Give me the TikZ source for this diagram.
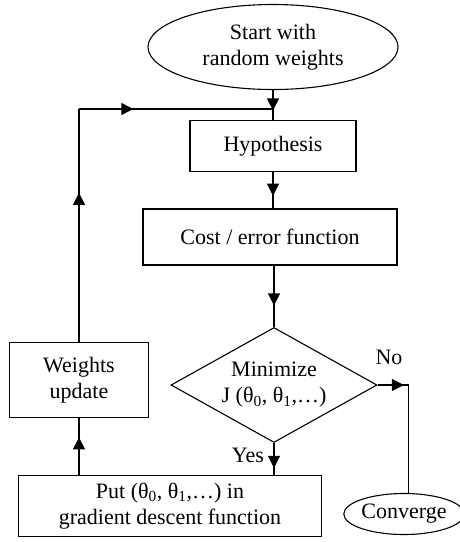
\documentclass[tikz,border=0pt]{standalone}
\usepackage{fontspec}
\setmainfont{Liberation Serif}
\usetikzlibrary{shapes.geometric,arrows.meta,decorations.markings}
\tikzset{
    flowbox/.style={draw, rectangle, align=center, inner sep=0pt},
    flowoval/.style={draw, ellipse, align=center, inner sep=0pt},
    flowdiamond/.style={draw, diamond, aspect=1.8, align=center, inner sep=0pt},
    midarrow/.style={decoration={markings,
        mark=at position #1 with {\arrow{Triangle[length=12pt,width=12pt]}}},
        postaction={decorate}},
}

\begin{document}
\begin{tikzpicture}[x=1pt, y=-1pt, line width=1.1pt, font=\fontsize{22}{26}\selectfont]
        \useasboundingbox (0,0) rectangle (460,542);
        \node[flowoval, minimum width=250pt, minimum height=85pt] (start) at (273,47) {Start with\\random weights};
        \node[flowbox, minimum width=166pt, minimum height=51pt] (hyp) at (273,146) {Hypothesis};
        \node[flowbox, minimum width=254pt, minimum height=56pt] (cost) at (270,237) {Cost / error function};
        \node[flowdiamond, minimum width=206pt, minimum height=115pt] (dec) at (274,385)
            {Minimize\\J (θ\textsubscript{0}, θ\textsubscript{1},…)};
        \node[flowbox, minimum width=303pt, minimum height=61pt] (put) at (170,506)
            {Put (θ\textsubscript{0}, θ\textsubscript{1},…) in\\gradient descent function};
        \node[flowbox, minimum width=139pt, minimum height=75pt] (wts) at (79,380) {Weights\\update};
        \node[flowoval, minimum width=110pt, minimum height=41pt] (conv) at (404,514) {Converge};
        \node (no) at (389,357) {No};
        \node (yes) at (248,455) {Yes};
        \coordinate (join) at (273,109);
        \coordinate (loop) at (79,109);
        \draw[midarrow=0.68] (start) -- (hyp);
        \draw[midarrow=0.65] (hyp) -- (hyp.south |- cost.north);
        \draw[midarrow=0.65] (cost.south -| dec.north) -- (dec.north);
        \draw[midarrow=0.78] (dec.south) -- (dec.south |- put.north);
        \draw[midarrow=0.85] (dec.east) -- ++(31,0) coordinate (noturn);
        \draw (noturn) -- (noturn |- conv.north);
        \draw[midarrow=0.66] (wts.south |- put.north) -- (wts.south);
        \draw[midarrow=0.64] (wts.north) -- (loop);
        \draw[midarrow=0.28] (loop) -- (join);
    \end{tikzpicture}
\end{document}
